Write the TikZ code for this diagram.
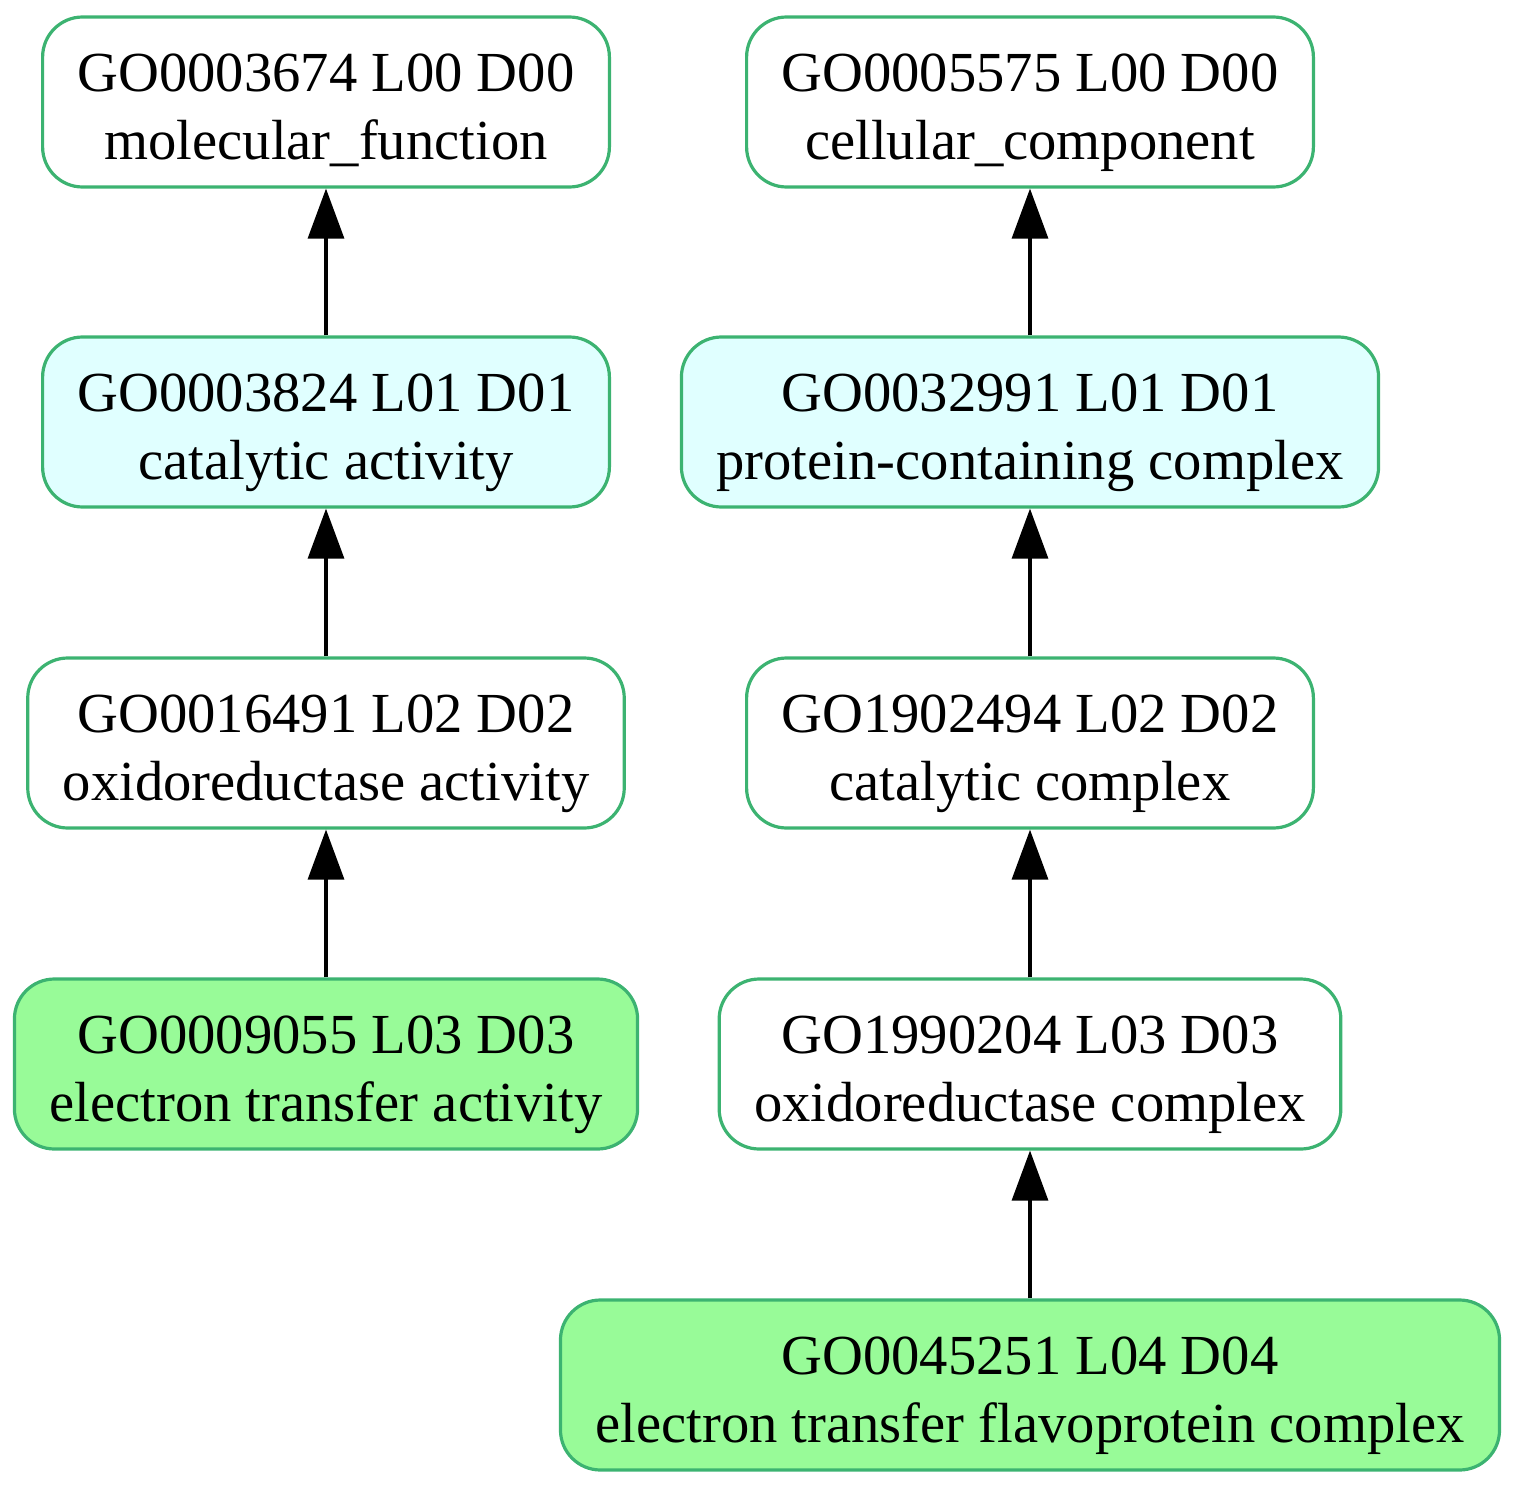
\documentclass[tikz,border=0pt]{standalone}
\usepackage{fontspec}
\setmainfont{Liberation Serif}
\usetikzlibrary{arrows.meta, shapes}
\definecolor{termborder}{HTML}{3CB371}
\definecolor{lightcyan}{HTML}{E0FFFF}
\definecolor{palegreen}{HTML}{98FB98}
\newcommand{\golabel}[2]{\rule{0pt}{30pt}#1\\#2\rule[-7pt]{0pt}{7pt}}
\tikzstyle{term} = [rectangle, rounded corners=20pt, minimum height=85pt, inner xsep=17.5pt, inner ysep=0pt, align=center, text centered, draw=termborder, line width=1.6pt, fill=white, font=\fontsize{28.3}{34}\selectfont]
\tikzstyle{level} = [term, fill=lightcyan]
\tikzstyle{leaf} = [term, fill=palegreen]
\tikzstyle{arrow} = [line width=1.6pt, -{Triangle[length=25pt, width=18pt]}]

\begin{document}
\begin{tikzpicture}[x=0.5pt, y=0.5pt, yscale=-1]
\useasboundingbox (0,0) rectangle (1517,1488);

% molecular function branch
\node at (326, 102) (mf) [term] {\golabel{GO0003674 L00 D00}{molecular\_function}};
\node at (326, 422) (catalytic) [level] {\golabel{GO0003824 L01 D01}{catalytic activity}};
\node at (326, 743) (oxido) [term] {\golabel{GO0016491 L02 D02}{oxidoreductase activity}};
\node at (326, 1064) (etransfer) [leaf] {\golabel{GO0009055 L03 D03}{electron transfer activity}};

% cellular component branch
\node at (1030, 102) (cc) [term] {\golabel{GO0005575 L00 D00}{cellular\_component}};
\node at (1030, 422) (protcomplex) [level] {\golabel{GO0032991 L01 D01}{protein-containing complex}};
\node at (1030, 743) (catcomplex) [term] {\golabel{GO1902494 L02 D02}{catalytic complex}};
\node at (1030, 1064) (oxidocomplex) [term] {\golabel{GO1990204 L03 D03}{oxidoreductase complex}};
\node at (1030, 1385) (flavo) [leaf] {\golabel{GO0045251 L04 D04}{electron transfer flavoprotein complex}};

\draw [arrow] (catalytic) -- (mf);
\draw [arrow] (oxido) -- (catalytic);
\draw [arrow] (etransfer) -- (oxido);

\draw [arrow] (protcomplex) -- (cc);
\draw [arrow] (catcomplex) -- (protcomplex);
\draw [arrow] (oxidocomplex) -- (catcomplex);
\draw [arrow] (flavo) -- (oxidocomplex);

\end{tikzpicture}
\end{document}
